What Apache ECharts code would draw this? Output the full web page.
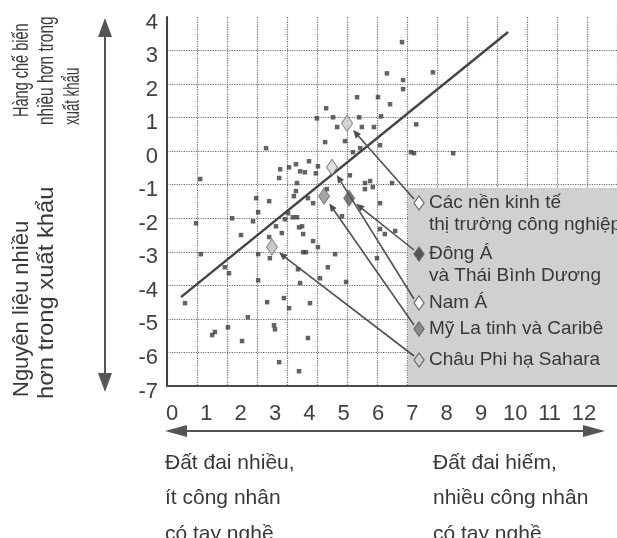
<!DOCTYPE html>
<html>
<head>
<meta charset="utf-8">
<script src="https://cdn.jsdelivr.net/npm/echarts@6/dist/echarts.min.js"></script>
<style>
  html, body { margin: 0; padding: 0; background: #fff; }
  #c { width: 617px; height: 538px; }
</style>
</head>
<body>
<div id="c"></div>
<script>
// Axis ticks
const xTicks = [0, 1, 2, 3, 4, 5, 6, 7, 8, 9, 10, 11, 12];
const yTicks = [-7, -6, -5, -4, -3, -2, -1, 0, 1, 2, 3, 4];

// Individual economies: land/skill position (x) vs export composition (y)
const countryX = [6.70, 6.26, 7.60, 6.73, 6.73, 5.39, 6.00, 6.35, 4.49, 4.22, 4.69, 5.45, 6.09, 4.81, 5.53, 5.88, 7.11,
  2.74, 4.46, 5.04, 5.27, 5.48, 6.06, 6.96, 7.05, 8.19, 0.82, 3.15, 3.12, 3.41, 3.61, 3.73, 3.87, 3.99, 4.25, 4.19,
  5.18, 5.62, 5.77, 5.85, 5.62, 6.41, 3.64, 3.61, 3.55, 2.45, 2.83, 3.96, 4.11, 6.06, 2.51, 1.75, 2.36, 0.70, 3.38,
  3.52, 3.64, 3.29, 3.03, 3.20, 3.70, 3.79, 3.82, 4.11, 2.01, 2.83, 4.95, 6.06, 6.20, 6.50, 4.25, 4.75, 0.84, 2.51,
  3.82, 3.90, 2.85, 5.97, 1.54, 1.66, 2.51, 3.67, 3.73, 4.54, 4.31, 5.07, 0.38, 2.77, 3.26, 3.41, 4.02, 2.21, 1.25,
  1.17, 1.63, 2.97, 3.00, 2.04, 3.96, 3.12, 3.70, 4.51];
const countryY = [3.25, 2.32, 2.35, 2.12, 1.85, 1.61, 1.61, 1.40, 1.28, 0.98, 1.01, 1.01, 1.04, 0.72, 0.72, 0.72, 0.80,
  0.09, 0.27, 0.30, -0.03, 0.09, 0.18, -0.03, -0.06, -0.06, -0.83, -0.54, -0.80, -0.48, -0.39, -0.60, -0.63, -0.30, -0.45, -0.66,
  -0.72, -0.95, -0.89, -1.07, -1.13, -0.95, -0.95, -1.19, -1.34, -1.40, -1.49, -1.40, -1.55, -1.55, -1.82, -2.00, -2.09, -2.15, -1.85,
  -1.97, -1.97, -2.03, -2.24, -2.44, -2.27, -2.24, -2.47, -2.68, -2.50, -2.56, -1.94, -2.32, -2.47, -2.38, -2.86, -3.07, -3.07, -3.07,
  -3.01, -3.01, -3.19, -3.19, -3.46, -3.64, -3.85, -3.52, -3.93, -3.46, -3.79, -3.90, -4.53, -4.50, -4.38, -4.68, -4.53, -4.95, -5.39,
  -5.48, -5.25, -5.19, -5.31, -5.66, -5.57, -6.29, -6.56, -1.13];

// Fitted trend line end points
const trendX = [0.26, 9.79];
const trendY = [-4.35, 3.55];

// Regional averages
const regionNames = ['Các nền kinh tế\nthị trường công nghiệp', 'Đông Á\nvà Thái Bình Dương', 'Nam Á', 'Mỹ La tinh và Caribê', 'Châu Phi hạ Sahara'];
const regionX = [5.10, 5.16, 4.66, 4.43, 2.91];
const regionY = [0.83, -1.40, -0.48, -1.34, -2.86];

const FONT = '"Liberation Sans", Arial, Helvetica, sans-serif';
const INK = '#383838';
const regionFill = ['#cfcfcf', '#5a5a5a', '#d6d6d6', '#8e8e8e', '#bdbdbd'];
const legendFill = ['#ffffff', '#555555', '#ffffff', '#8a8a8a', '#d0d0d0'];
const legendRowY = [203, 254, 303, 329, 360];

const chart = echarts.init(document.getElementById('c'), null, { renderer: 'canvas' });

const gridLine = { show: true, lineStyle: { color: '#6c6c6c', type: 'dotted', width: 1.2 } };

chart.setOption({
  animation: false,
  backgroundColor: '#ffffff',
  grid: [
    { left: 172, right: 33, top: 17, bottom: 152 },
    { left: 167, right: 0, top: 17, bottom: 152 }
  ],
  xAxis: [
    {
      gridIndex: 0, type: 'value', min: xTicks[0], max: xTicks[xTicks.length - 1], interval: 1,
      axisLine: { show: false }, axisTick: { show: false }, splitLine: { show: false },
      axisLabel: { color: '#404040', fontSize: 22, fontFamily: FONT, margin: 17 }
    },
    {
      gridIndex: 1, type: 'value', min: 0, max: 15, interval: 1,
      axisLine: { show: true, onZero: false, lineStyle: { color: '#4a4a4a', width: 2 } },
      axisTick: { show: false }, axisLabel: { show: false },
      splitLine: gridLine
    }
  ],
  yAxis: [
    { gridIndex: 0, type: 'value', min: -7, max: 4, interval: 1, show: false },
    {
      gridIndex: 1, type: 'value', min: yTicks[0], max: yTicks[yTicks.length - 1], interval: 1,
      axisLine: { show: true, onZero: false, lineStyle: { color: '#404040', width: 2 } },
      axisTick: { show: false },
      axisLabel: { color: '#404040', fontSize: 22, fontFamily: FONT, margin: 9, verticalAlign: 'top', lineHeight: 11 },
      splitLine: Object.assign({ showMaxLine: false }, gridLine)
    }
  ],
  series: [
    {
      type: 'scatter', xAxisIndex: 0, yAxisIndex: 0, z: 3,
      symbol: 'rect', symbolSize: 4.5,
      itemStyle: { color: '#3c3c3c' },
      data: countryX.map((x, i) => [x, countryY[i]])
    },
    {
      type: 'line', xAxisIndex: 0, yAxisIndex: 0, z: 4,
      showSymbol: false, symbol: 'none',
      lineStyle: { color: '#454545', width: 2.5 },
      data: trendX.map((x, i) => [x, trendY[i]])
    },
    {
      type: 'scatter', xAxisIndex: 0, yAxisIndex: 0, z: 6,
      symbol: 'diamond', symbolSize: [11, 16],
      data: regionX.map((x, i) => ({
        value: [x, regionY[i]],
        itemStyle: { color: regionFill[i], borderColor: '#6a6a6a', borderWidth: 1 }
      }))
    }
  ]
});

function diamond(cx, cy, w, h) {
  return [[cx, cy - h / 2], [cx + w / 2, cy], [cx, cy + h / 2], [cx - w / 2, cy]];
}
function arrowHead(tip, ux, uy, len, half) {
  const bx = tip[0] + ux * len, by = tip[1] + uy * len;
  return [tip, [bx - uy * half, by + ux * half], [bx + uy * half, by - ux * half]];
}

const g = [];

// shaded legend panel
g.push({ type: 'rect', z: 10, shape: { x: 408, y: 188, width: 209, height: 197 }, style: { fill: '#d0d0d0' } });

// legend rows
regionNames.forEach((name, i) => {
  g.push({ type: 'polygon', z: 12, shape: { points: diamond(419, legendRowY[i], 10, 14) },
    style: { fill: legendFill[i], stroke: '#666', lineWidth: 1.2 } });
  g.push({ type: 'text', z: 12, x: 429, y: legendRowY[i] - 11,
    style: { text: name, font: '19px ' + FONT, fill: INK, lineHeight: 22, align: 'left', verticalAlign: 'top' } });
});

// leader lines from each legend row to its regional average
regionX.forEach((x, i) => {
  const p = chart.convertToPixel({ xAxisIndex: 0, yAxisIndex: 0 }, [x, regionY[i]]);
  const end = [414, legendRowY[i] - 4];
  const dx = end[0] - p[0], dy = end[1] - p[1], L = Math.hypot(dx, dy);
  const ux = dx / L, uy = dy / L;
  const tip = [p[0] + ux * 9, p[1] + uy * 9];
  g.push({ type: 'line', z: 11, shape: { x1: tip[0] + ux * 4, y1: tip[1] + uy * 4, x2: end[0], y2: end[1] },
    style: { stroke: '#505050', lineWidth: 1.6 } });
  g.push({ type: 'polygon', z: 11, shape: { points: arrowHead(tip, ux, uy, 8, 3.5) }, style: { fill: '#505050' } });
});

// vertical double arrow beside the y axis
g.push({ type: 'line', z: 5, shape: { x1: 105, y1: 30, x2: 105, y2: 380 }, style: { stroke: '#555', lineWidth: 2 } });
g.push({ type: 'polygon', z: 5, shape: { points: [[105, 18], [112, 37], [98, 37]] }, style: { fill: '#555' } });
g.push({ type: 'polygon', z: 5, shape: { points: [[105, 392], [112, 373], [98, 373]] }, style: { fill: '#555' } });

// horizontal double arrow under the x axis
g.push({ type: 'line', z: 5, shape: { x1: 178, y1: 431, x2: 592, y2: 431 }, style: { stroke: '#555', lineWidth: 2 } });
g.push({ type: 'polygon', z: 5, shape: { points: [[165, 431], [187, 425], [187, 437]] }, style: { fill: '#555' } });
g.push({ type: 'polygon', z: 5, shape: { points: [[605, 431], [583, 425], [583, 437]] }, style: { fill: '#555' } });

// vertical axis captions (read bottom to top)
const vText = (txt, x, y, size, sx) => ({
  type: 'text', z: 5, x: x, y: y, rotation: Math.PI / 2, scaleX: sx,
  style: { text: txt, font: size + 'px ' + FONT, fill: INK, align: 'left', verticalAlign: 'middle' }
});
g.push(vText('Hàng chế biến', 22, 117, 22, 0.66));
g.push(vText('nhiều hơn trong', 47, 125, 22, 0.7));
g.push(vText('xuất khẩu', 73, 125, 22, 0.6));
g.push(vText('Nguyên liệu nhiều', 22, 397, 22, 1));
g.push(vText('hơn trong xuất khẩu', 47, 399, 22, 1.08));

// horizontal axis captions
g.push({ type: 'text', z: 5, x: 165, y: 445,
  style: { text: 'Đất đai nhiều,\nít công nhân\ncó tay nghề', font: '21px ' + FONT, fill: INK, lineHeight: 35.5, align: 'left', verticalAlign: 'top' } });
g.push({ type: 'text', z: 5, x: 433, y: 445,
  style: { text: 'Đất đai hiếm,\nnhiều công nhân\ncó tay nghề', font: '21px ' + FONT, fill: INK, lineHeight: 35.5, align: 'left', verticalAlign: 'top' } });

chart.setOption({ graphic: g });
</script>
</body>
</html>
